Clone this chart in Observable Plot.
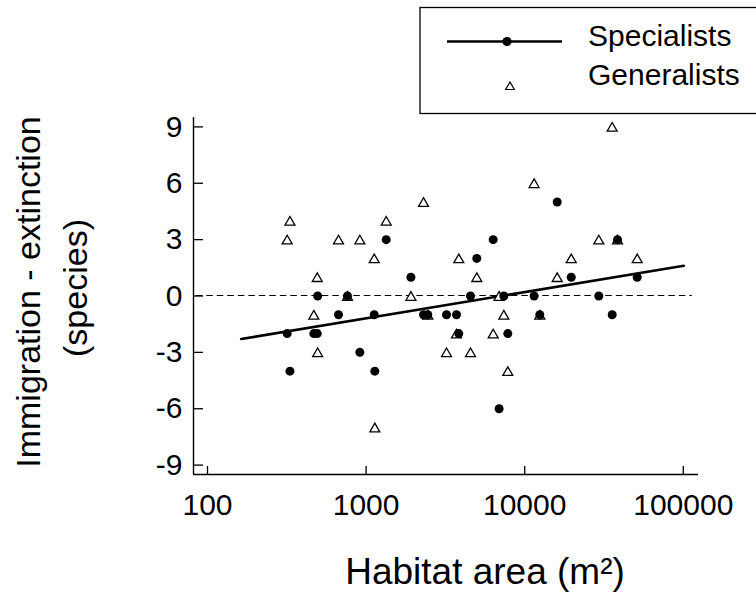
<!DOCTYPE html>
<html><head><meta charset="utf-8">
<script src="https://cdn.jsdelivr.net/npm/d3@7"></script>
<script src="https://cdn.jsdelivr.net/npm/@observablehq/plot@0.6"></script>
<style>
body{margin:0;background:#fff;}
#chart{position:relative;width:756px;height:598px;overflow:hidden;}
svg text{font-family:"Liberation Sans",Arial,sans-serif;}
</style></head><body><div id="chart"></div>
<script>
// Site habitat areas (m²), one per site
const areas = [318, 331, 468, 492, 495, 670, 763, 913, 1125, 1135, 1339, 1917, 2301, 2449, 3214, 3715, 3842, 4553, 4989, 6330, 6897, 7384, 7825, 11465, 12451, 16029, 19649, 29327, 35613, 38470, 51220];
// Immigration - extinction (species)
const specialists = [-2, -4, -2, -2, 0, -1, 0, -3, -1, -4, 3, 1, -1, -1, -1, -1, -2, 0, 2, 3, -6, 0, -2, 0, -1, 5, 1, 0, -1, 3, 1];
const generalists = [3, 4, -1, 1, -3, 3, 0, 3, 2, -7, 4, 0, 5, -1, -3, -2, 2, -3, 1, -2, 0, -1, -4, 6, -1, 1, 2, 3, 9, 3, 2];
// Fitted line for specialists (end points)
const fitArea = [163, 100700];
const fitValue = [-2.29, 1.61];
const zeroExtent = [85, 114000];
const xTicks = [100, 1000, 10000, 100000];
const yTicks = [-9, -6, -3, 0, 3, 6, 9];
const xDomain = [81.6, 124700];
const yDomain = [-9.5, 9.5];
const seriesNames = ["Specialists", "Generalists"];
const xTitle = "Habitat area (m²)";
const yTitle = ["Immigration - extinction", "(species)"];

const spec = areas.map((a, i) => ({area: a, value: specialists[i]}));
const gen = areas.map((a, i) => ({area: a, value: generalists[i]}));
const fit = fitArea.map((a, i) => ({area: a, value: fitValue[i]}));

const W = 756, H = 598, ML = 193, MR = 58, MT = 117, MB = 124;
const FW = W - ML - MR, FH = H - MT - MB;
const font = "Liberation Sans, Arial, sans-serif";

const plot = Plot.plot({
  width: W, height: H,
  marginLeft: ML, marginRight: MR, marginTop: MT, marginBottom: MB,
  style: {fontFamily: font, fontSize: "30px", background: "white", color: "black"},
  x: {type: "log", domain: xDomain, label: null},
  y: {domain: yDomain, label: null},
  marks: [
    Plot.ruleY([0], {x1: zeroExtent[0], x2: zeroExtent[1], stroke: "black", strokeWidth: 1.1, strokeDasharray: "6.5,4", dy: -0.5}),
    Plot.line(fit, {x: "area", y: "value", stroke: "black", strokeWidth: 2.6}),
    Plot.dot(gen, {x: "area", y: "value", symbol: "triangle", r: 3.7, fill: "white", stroke: "black", strokeWidth: 1.3, dy: 1.4}),
    Plot.dot(spec, {x: "area", y: "value", symbol: "circle", r: 4.5, fill: "black", stroke: "none"}),
    Plot.ruleX([xDomain[0]], {stroke: "black", strokeWidth: 1.4}),
    Plot.ruleY([yDomain[0]], {stroke: "black", strokeWidth: 1.4}),
    Plot.ruleX(xTicks, {stroke: "black", strokeWidth: 1.3, insetTop: FH - 8}),
    Plot.ruleY(yTicks, {stroke: "black", strokeWidth: 1.3, insetRight: FW - 10}),
    Plot.axisX(xTicks, {tickSize: 0, tickPadding: 19, fontSize: 30, tickFormat: d => String(d), label: null}),
    Plot.axisY(yTicks, {tickSize: 0, tickPadding: 11, fontSize: 30, tickFormat: d => String(d), label: null})
  ]
});

const svg = d3.select(plot);
// axis titles
svg.append("text").attr("x", 485).attr("y", 584).attr("text-anchor", "middle")
  .attr("font-size", 37).attr("fill", "black").text(xTitle);
svg.append("text").attr("transform", "translate(40,292) rotate(-90)").attr("text-anchor", "middle")
  .attr("font-size", 34).attr("fill", "black").text(yTitle[0]);
svg.append("text").attr("transform", "translate(87,288) rotate(-90)").attr("text-anchor", "middle")
  .attr("font-size", 34).attr("fill", "black").text(yTitle[1]);

// legend
const lg = svg.append("g");
lg.append("rect").attr("x", 420).attr("y", 7.5).attr("width", 400).attr("height", 106)
  .attr("fill", "white").attr("stroke", "black").attr("stroke-width", 1.3);
lg.append("line").attr("x1", 447).attr("x2", 562).attr("y1", 41.5).attr("y2", 41.5)
  .attr("stroke", "black").attr("stroke-width", 2.6);
lg.append("path").attr("d", d3.symbol(d3.symbolCircle, Math.PI * 4.6 * 4.6)())
  .attr("transform", "translate(507,41.5)").attr("fill", "black");
lg.append("path").attr("d", d3.symbol(d3.symbolTriangle, Math.PI * 3.2 * 3.2)())
  .attr("transform", "translate(510,87)").attr("fill", "white").attr("stroke", "black").attr("stroke-width", 1.2);
lg.append("text").attr("x", 588).attr("y", 45.5).attr("text-anchor", "start").attr("font-size", 30).attr("fill", "black").text(seriesNames[0]);
lg.append("text").attr("x", 588).attr("y", 84.5).attr("text-anchor", "start").attr("font-size", 30).attr("fill", "black").text(seriesNames[1]);

document.getElementById("chart").appendChild(plot);
</script></body></html>
